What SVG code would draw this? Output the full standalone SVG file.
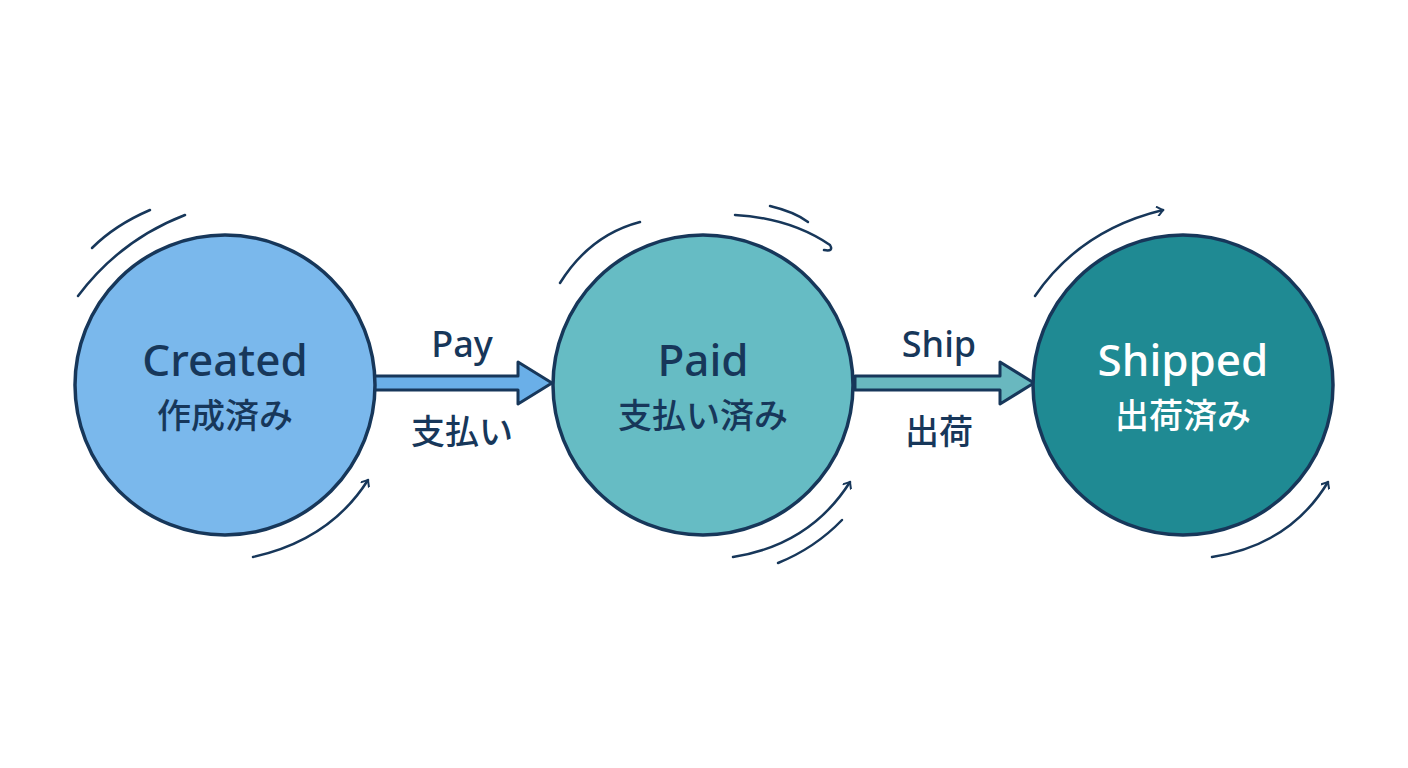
<svg xmlns="http://www.w3.org/2000/svg" width="1408" height="768" viewBox="0 0 1408 768">
<defs>
<style>
.n{stroke:#17375a;stroke-width:3.5}
.t{font-family:"Noto Sans","Noto Sans CJK JP",sans-serif;text-anchor:middle;font-weight:500}
.m{fill:none;stroke:#17375a;stroke-width:2.5;stroke-linecap:round}
.a{stroke:#17375a;stroke-width:3;stroke-linejoin:round}
</style>
<marker id="h" markerWidth="10" markerHeight="10" refX="7" refY="5" orient="auto" markerUnits="userSpaceOnUse"><path d="M1,0 L7,5 L1,10" fill="none" stroke="#17375a" stroke-width="2"/></marker>
</defs>
<rect width="1408" height="768" fill="#fff"/>
<g id="connectors">
<path class="a" fill="#6aafe8" d="M374,376 H518 V362 L552,383 L518,404 V390 H374 Z"/>
<path class="a" fill="#69b8bf" d="M855,376 H1000 V362 L1034,383 L1000,404 V390 H855 Z"/>
<text class="t" x="462" y="357" font-size="36" fill="#17375a">Pay</text>
<text class="t" x="462" y="444" font-size="34" fill="#17375a">支払い</text>
<text class="t" x="939" y="357" font-size="36" fill="#17375a">Ship</text>
<text class="t" x="939" y="444" font-size="34" fill="#17375a">出荷</text>
</g>
<g id="created">
<circle class="n" cx="225" cy="385" r="150" fill="#7ab8ec"/>
<text class="t" x="225" y="376" font-size="44" fill="#17375a">Created</text>
<text class="t" x="225" y="428" font-size="34" fill="#17375a">作成済み</text>
<path class="m" d="M92,248 Q115,225 150,210"/>
<path class="m" d="M78,296 Q120,240 185,215"/>
<path class="m" d="M253,557 Q330,540 368,480" marker-end="url(#h)"/>
</g>
<g id="paid">
<circle class="n" cx="703" cy="385" r="150" fill="#66bcc4"/>
<text class="t" x="703" y="376" font-size="44" fill="#17375a">Paid</text>
<text class="t" x="703" y="428" font-size="34" fill="#17375a">支払い済み</text>
<path class="m" d="M560,283 Q590,235 640,222"/>
<path class="m" d="M735,215 Q790,218 830,245 Q834,252 824,250"/>
<path class="m" d="M770,206 Q795,212 808,222"/>
<path class="m" d="M733,557 Q810,545 850,482" marker-end="url(#h)"/>
<path class="m" d="M778,563 Q815,548 842,520"/>
</g>
<g id="shipped">
<circle class="n" cx="1183" cy="385" r="150" fill="#1f8a93"/>
<text class="t" x="1183" y="376" font-size="44" fill="#fff">Shipped</text>
<text class="t" x="1183" y="428" font-size="34" fill="#fff">出荷済み</text>
<path class="m" d="M1035,296 Q1080,230 1163,210" marker-end="url(#h)"/>
<path class="m" d="M1212,557 Q1290,545 1328,482" marker-end="url(#h)"/>
</g>
</svg>
